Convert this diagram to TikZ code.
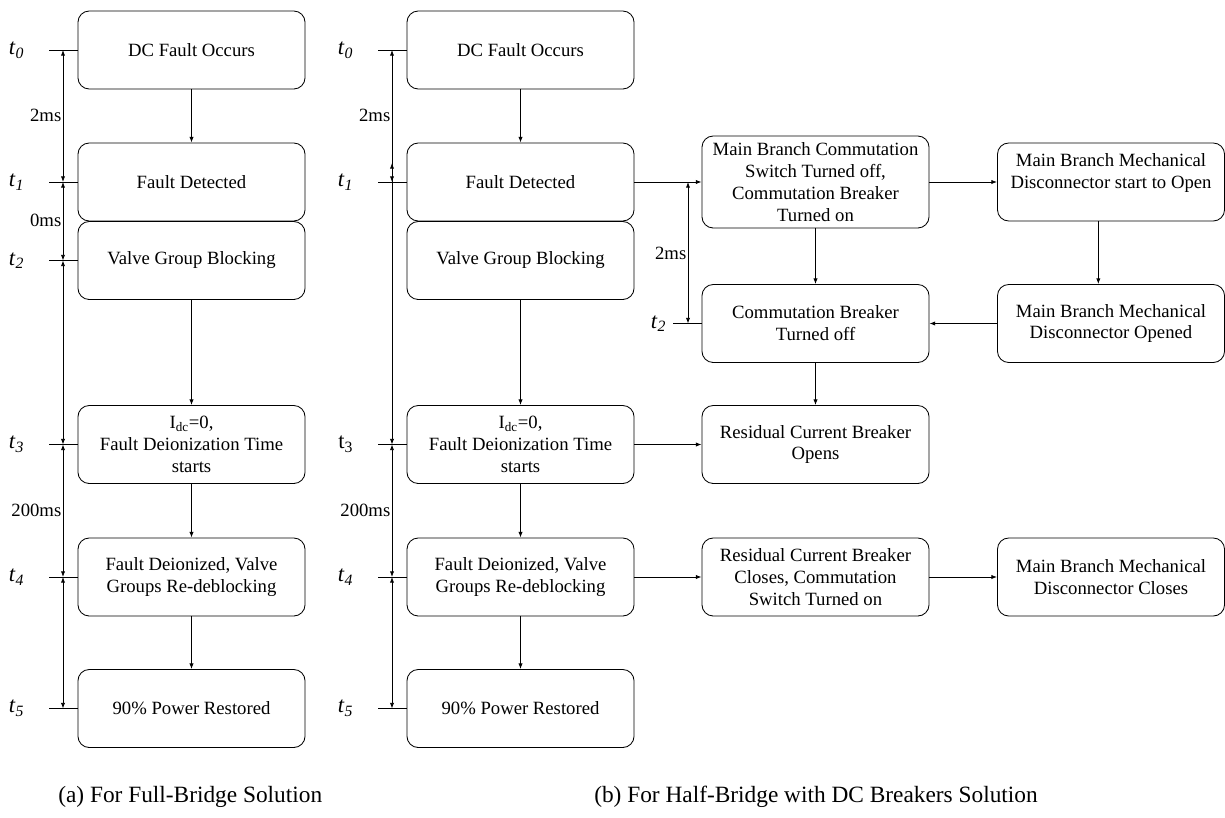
\documentclass[tikz,border=0pt]{standalone}
\usepackage{fontspec}
\setmainfont{Liberation Serif}
\usetikzlibrary{positioning, arrows.meta}

\tikzset{
  stage/.style={draw, rounded corners=8pt, line width=0.6pt, align=center,
    minimum width=5.675cm, minimum height=1.95cm, inner sep=2pt,
    font=\fontsize{13.3}{15.6}\selectfont},
  flow/.style={-{Latex[length=4pt,width=3pt]}, line width=0.6pt},
  span/.style={{Latex[length=4pt,width=3pt]}-{Latex[length=4pt,width=3pt]}, line width=0.6pt},
  tick/.style={line width=0.6pt},
  tlabel/.style={inner sep=0pt, font=\fontsize{16}{18}\selectfont},
  dlabel/.style={anchor=east, inner sep=1pt, font=\fontsize{13.3}{15.6}\selectfont},
  caption/.style={anchor=west, inner sep=0pt, font=\fontsize{16.6}{19}\selectfont},
}

\begin{document}
\begin{tikzpicture}[x=0.025cm, y=-0.025cm]
    \useasboundingbox (0,0) rectangle (1225,817);

    % (a) full-bridge sequence
    \node[stage] (a0) at (191.5,50)    {DC Fault Occurs};
    \node[stage] (a1) at (191.5,182)   {Fault Detected};
    \node[stage] (a2) at (191.5,260.5) {Valve Group Blocking};
    \node[stage] (a3) at (191.5,444.5) {I\textsubscript{dc}=0,\\Fault Deionization Time\\starts};
    \node[stage] (a4) at (191.5,577)   {Fault Deionized, Valve\\Groups Re-deblocking};
    \node[stage] (a5) at (191.5,708.5) {90\% Power Restored};

    \draw[tick] (a1) -- (a2);
    \foreach \s/\t in {a0/a1, a2/a3, a3/a4, a4/a5}
        \draw[flow] (\s) -- (\t);

    % time marks
    \foreach \n in {0,...,5}
        \draw[tick] (a\n.west) -- ++(-29,0)
            node[tlabel, left=0.6cm] (ta\n) {\textit{t}\textsubscript{\textit{\n}}};

    % time spans
    \foreach \ya/\yb in {50/182, 182/260.5, 260.5/444.5, 444.5/577, 577/708.5}
        \draw[span] (63,\ya) -- (63,\yb);
    \node[dlabel] (da0) at (63,115) {2ms};
    \node[dlabel] (da1) at (63,220) {0ms};
    \node[dlabel] (da2) at (63,510) {200ms};

    % (b) half-bridge sequence
    \node[stage] (b0) at (520.5,50)    {DC Fault Occurs};
    \node[stage] (b1) at (520.5,182)   {Fault Detected};
    \node[stage] (b2) at (520.5,260.5) {Valve Group Blocking};
    \node[stage] (b3) at (520.5,444.5) {I\textsubscript{dc}=0,\\Fault Deionization Time\\starts};
    \node[stage] (b4) at (520.5,577)   {Fault Deionized, Valve\\Groups Re-deblocking};
    \node[stage] (b5) at (520.5,708.5) {90\% Power Restored};

    \draw[tick] (b1) -- (b2);
    \foreach \s/\t in {b0/b1, b2/b3, b3/b4, b4/b5}
        \draw[flow] (\s) -- (\t);

    \foreach \n/\lbl in {0/\textit{t}\textsubscript{\textit{0}},
                         1/\textit{t}\textsubscript{\textit{1}},
                         3/t\textsubscript{3},
                         4/\textit{t}\textsubscript{\textit{4}},
                         5/\textit{t}\textsubscript{\textit{5}}}
        \draw[tick] (b\n.west) -- ++(-29,0)
            node[tlabel, left=0.6cm] (tb\n) {\lbl};

    \foreach \ya/\yb in {50/182, 163/444.5, 444.5/577, 577/708.5}
        \draw[span] (392,\ya) -- (392,\yb);
    \node[dlabel] (db0) at (392,115) {2ms};
    \node[dlabel] (db1) at (392,510) {200ms};

    % breaker branch
    \node[stage, minimum height=2.3cm] (c0) at (815.5,182)
        {Main Branch Commutation\\Switch Turned off,\\Commutation Breaker\\Turned on};
    \node[stage] (c1) at (815.5,323.5) {Commutation Breaker\\Turned off};
    \node[stage] (c2) at (815.5,444.5) {Residual Current Breaker\\Opens};
    \node[stage] (c3) at (815.5,577)   {Residual Current Breaker\\Closes, Commutation\\Switch Turned on};

    \node[stage] (d0) at (1111,182)   {Main Branch Mechanical\\Disconnector start to Open\\ \mbox{}};
    \node[stage] (d1) at (1111,323.5) {Main Branch Mechanical\\Disconnector Opened};
    \node[stage] (d3) at (1111,577)   {Main Branch Mechanical\\Disconnector Closes};

    \draw[flow] (b1) -- (c0);
    \draw[flow] (c0) -- (d0);
    \draw[flow] ([xshift=-9]d0.south) -- ([xshift=-9]d1.north);
    \draw[flow] (d1) -- (c1);
    \draw[flow] (c0) -- (c1);
    \draw[flow] (c1) -- (c2);
    \draw[flow] (b3) -- (c2);
    \draw[flow] (b4) -- (c3);
    \draw[flow] (c3) -- (d3);

    \draw[tick] (c1.west) -- ++(-29,0)
        node[tlabel, left=0.15cm] (tc2) {\textit{t}\textsubscript{\textit{2}}};
    \draw[span] (688,182) -- (688,323.5);
    \node[dlabel] (dc0) at (688,253) {2ms};

    % captions
    \node[caption] (capa) at (58,797)  {(a) For Full-Bridge Solution};
    \node[caption] (capb) at (594,797) {(b) For Half-Bridge with DC Breakers Solution};
\end{tikzpicture}
\end{document}
